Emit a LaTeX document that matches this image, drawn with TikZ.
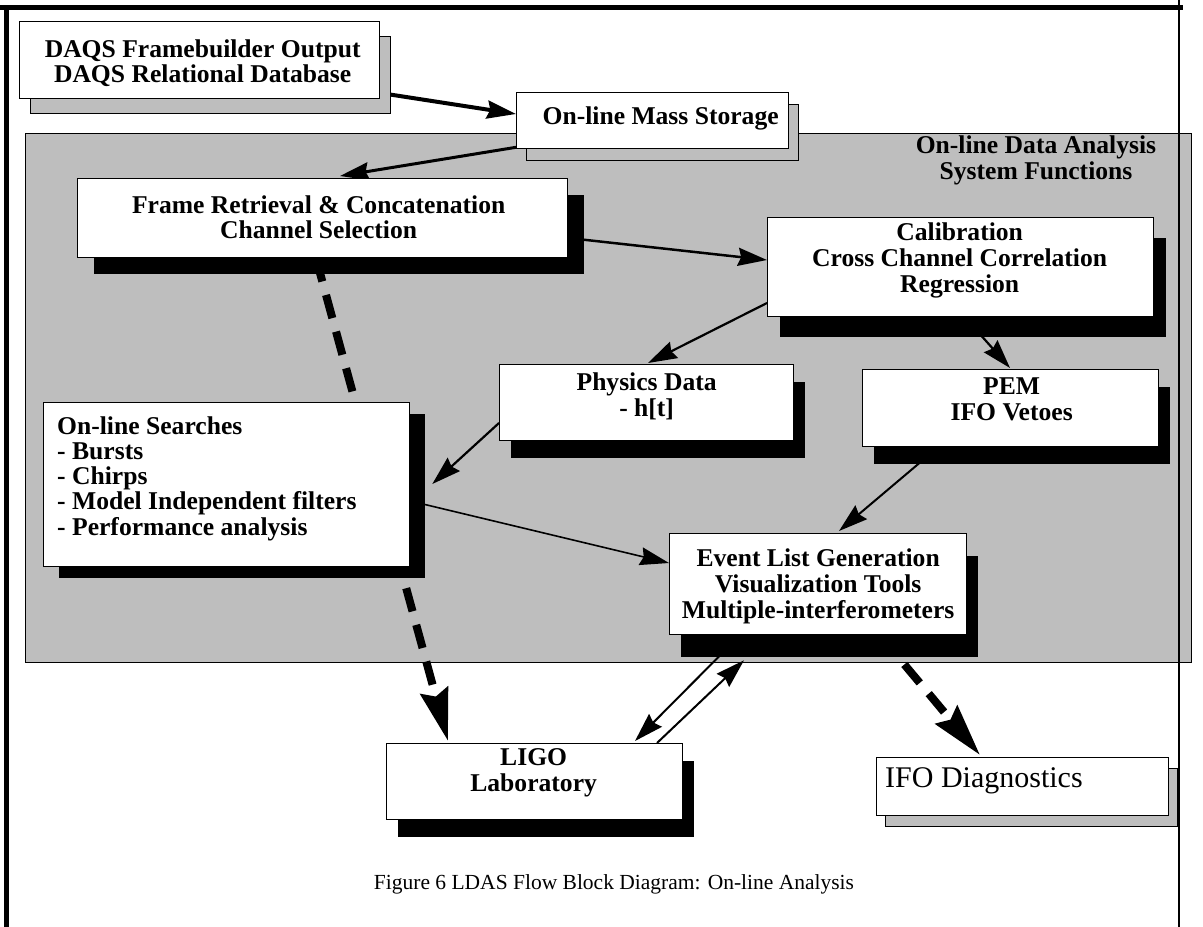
\documentclass[tikz,border=0pt]{standalone}
\usepackage{fontspec}
\setmainfont{Liberation Serif}
\usetikzlibrary{arrows.meta,calc,shadows}
\definecolor{panelgray}{RGB}{190,190,190}
\pgfdeclarelayer{bg}
\pgfdeclarelayer{conn}
\pgfsetlayers{bg,conn,main}
\begin{document}
\begin{tikzpicture}[x=1pt,y=-1pt,
  wbox/.style={draw=black, line width=1.3pt, fill=white, inner sep=0pt, anchor=north west},
  bsh/.style 2 args={drop shadow={shadow xshift=#1pt, shadow yshift=-#2pt, fill=black, opacity=1}},
  gsh/.style 2 args={drop shadow={shadow xshift=#1pt, shadow yshift=-#2pt, fill=panelgray, draw=black, line width=0.9pt, opacity=1}},
  btxt/.style={font=\fontsize{25.6}{25.8}\selectfont\bfseries, align=center, inner sep=0pt},
  arr/.style={line width=#1, -{Stealth[length=29pt,width=18pt,inset=3pt]}},
  darr/.style={line width=8pt, dash pattern=on 24pt off 14pt, -{Stealth[length=52pt,width=28pt,inset=6pt]}}
]
\useasboundingbox (0,0) rectangle (1203,927);
\begin{pgfonlayer}{bg}
  \fill[white] (0,0) rectangle (1203,927);
  \node[draw=black, line width=1.2pt, fill=panelgray, inner sep=0pt, anchor=north west,
        minimum width=1166pt, minimum height=529pt] (panel) at (25,133) {};
  \draw[line width=5pt] (0,7.5) -- (1183,7.5);
  \draw[line width=5pt] (6.5,5) -- (6.5,927);
  \draw[line width=1.2pt] (1179,0) -- (1179,927);
\end{pgfonlayer}

% boxes
\node[wbox, gsh={11}{15}, minimum width=360pt, minimum height=77pt] (daqs) at (19,21) {};
\node[btxt] (daqsT) at ($(daqs.center)+(3,3)$) {DAQS Framebuilder Output\\DAQS Relational Database};

\node[wbox, gsh={10}{12}, minimum width=272pt, minimum height=56pt] (mass) at (516,92) {};
\node[btxt] (massT) at ($(mass.center)+(8,-2)$) {On-line Mass Storage};

\node[btxt] (title) at (1036,160) {On-line Data Analysis\\System Functions};

\node[wbox, bsh={16}{16}, minimum width=490pt, minimum height=79pt] (frame) at (77,178) {};
\node[btxt] (frameT) at ($(frame.center)+(-4,-1)$) {Frame Retrieval \& Concatenation\\Channel Selection};

\node[wbox, bsh={12}{20}, minimum width=386pt, minimum height=99pt] (calib) at (767,217) {};
\node[btxt] (calibT) at ($(calib.center)+(-1,-7)$) {Calibration\\Cross Channel Correlation\\Regression};

\node[wbox, bsh={11}{17}, minimum width=294pt, minimum height=76pt] (phys) at (499,364) {};
\node[btxt] (physT) at ($(phys.center)+(0,-6)$) {Physics Data\\- h[t]};

\node[wbox, bsh={11}{17}, minimum width=296pt, minimum height=77pt] (pem) at (862,369) {};
\node[btxt] (pemT) at ($(pem.center)+(1,-9)$) {PEM\\IFO Vetoes};

\node[wbox, bsh={15}{11}, minimum width=366pt, minimum height=164pt] (srch) at (43,402) {};
\node[btxt, align=left, anchor=west, font=\fontsize{25.6}{25.2}\selectfont\bfseries] (srchT) at ($(srch.west)+(14,-6)$) {On-line Searches\\- Bursts\\- Chirps\\- Model Independent filters\\- Performance analysis};

\node[wbox, bsh={11}{22}, minimum width=297pt, minimum height=101pt] (event) at (669,533) {};
\node[btxt] (eventT) at ($(event.center)+(0,2)$) {Event List Generation\\Visualization Tools\\Multiple-interferometers};

\node[wbox, bsh={11}{17}, minimum width=296pt, minimum height=76pt] (ligo) at (386,743) {};
\node[btxt] (ligoT) at ($(ligo.center)+(-1,-9)$) {LIGO\\Laboratory};

\node[wbox, gsh={9}{11}, minimum width=292pt, minimum height=58pt] (ifo) at (876,757) {};
\node[font=\fontsize{30}{31}\selectfont, inner sep=0pt, anchor=west] (ifoT) at ($(ifo.west)+(9,-6)$) {IFO Diagnostics};

\node[font=\fontsize{21.5}{24}\selectfont, inner sep=0pt] (cap) at (614,884) {Figure 6 LDAS Flow Block Diagram: On-line Analysis};

% connectors
\begin{pgfonlayer}{conn}
  \draw[darr] ($(frame.south west)+(239,0)$) -- ($(ligo.north west)+(62,-2)$);
  \draw[darr] ($(event.south west)+(211,0)$) -- ($(ifo.north west)+(104,-2)$);
  \draw[arr=4pt] ($(daqs.north east)+(0,72)$) -- ($(mass.north west)+(0,22)$);
  \draw[arr=3pt] ($(mass.south west)+(0,-2)$) -- ($(frame.north west)+(263,-2)$);
  \draw[arr=2.5pt] ($(frame.north east)+(0,60)$) -- ($(calib.north west)+(0,43)$);
  \draw[arr=2.2pt] ($(calib.north west)+(0,86)$) -- ($(phys.north west)+(149,-1)$);
  \draw[arr=2.2pt] ($(calib.south west)+(198,0)$) -- ($(pem.north west)+(148,-1)$);
  \draw[arr=2.2pt] ($(phys.north west)+(0,59)$) -- ($(srch.north east)+(22,82)$);
  \draw[arr=1.6pt] ($(srch.north east)+(0,99)$) -- ($(event.north west)+(0,30)$);
  \draw[arr=2pt] ($(pem.south west)+(76,0)$) -- ($(event.north west)+(170,-2)$);
  \draw[arr=2pt] ($(event.south west)+(71,0)$) -- ($(ligo.north west)+(249,-2)$);
  \draw[arr=2pt] ($(ligo.north west)+(271,0)$) -- ($(event.south west)+(75,25)$);
\end{pgfonlayer}
\end{tikzpicture}
\end{document}
